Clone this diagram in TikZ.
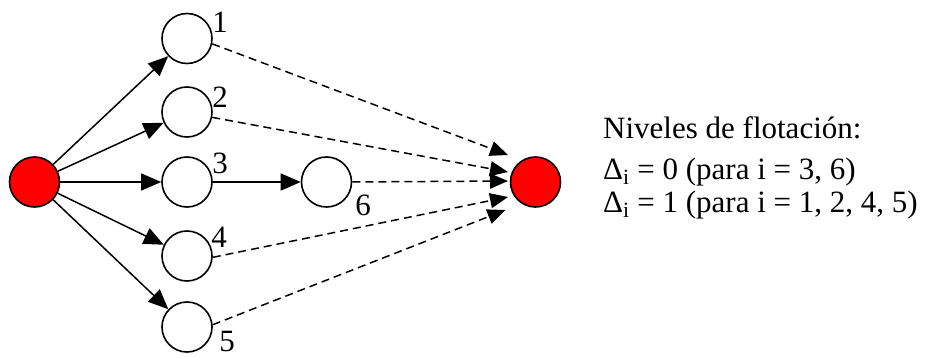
\documentclass[tikz,border=0pt]{standalone}
\usepackage{fontspec}
\setmainfont{Liberation Serif}
\usetikzlibrary{arrows.meta,calc}
\begin{document}
\begin{tikzpicture}[x=1pt,y=-1pt,
  nd/.style={draw,line width=1.6pt,circle,minimum size=50pt,inner sep=0pt,fill=white},
  rd/.style={nd,fill=red},
  lbl/.style={font=\fontsize{31}{33}\selectfont,inner sep=0pt},
  txt/.style={font=\fontsize{31}{33}\selectfont,inner sep=0pt,anchor=base west},
  solidarr/.style={line width=1.5pt,-{Triangle[length=20pt,width=17pt]}},
  dasharr/.style={line width=1.5pt,dash pattern=on 8pt off 5pt,-{Triangle[length=18pt,width=15pt]}}]
\useasboundingbox (0,0) rectangle (928,358);
\node[rd] (s) at (34.5,182) {};
\node[nd] (n1) at (187,38.5) {};
\node[nd] (n2) at (187,112) {};
\node[nd] (n3) at (187,182) {};
\node[nd] (n4) at (187,256) {};
\node[nd] (n5) at (187,327) {};
\node[nd] (n6) at (326.5,182) {};
\node[rd] (t) at (535.5,182) {};
\node[lbl] (l1) at (220,22) {1};
\node[lbl] (l2) at (220,97) {2};
\node[lbl] (l3) at (220,163) {3};
\node[lbl] (l4) at (219,237) {4};
\node[lbl] (l5) at (227,341) {5};
\node[lbl] (l6) at (363,205) {6};
\foreach \n in {n1,n2,n3,n4,n5} \draw[solidarr] (s) -- (\n);
\draw[solidarr] (n3) -- (n6);
\draw[dasharr] (n1.-12) -- ($(t.center)+(-27.5,-27)$);
\draw[dasharr] (n2.-12) -- ($(t.center)+(-27.5,-10)$);
\draw[dasharr] (n6.east) -- ($(t.center)+(-27.5,-1)$);
\draw[dasharr] (n4.-3) -- ($(t.center)+(-27.5,15)$);
\draw[dasharr] (n5.5) -- ($(t.center)+(-30,28)$);
\node[txt] (t1) at (603,139) {Niveles de flotación:};
\node[txt] (t2) at (603,179) {Δ\textsubscript{i} = 0 (para i = 3, 6)};
\node[txt] (t3) at (603,212) {Δ\textsubscript{i} = 1 (para i = 1, 2, 4, 5)};
\end{tikzpicture}
\end{document}
